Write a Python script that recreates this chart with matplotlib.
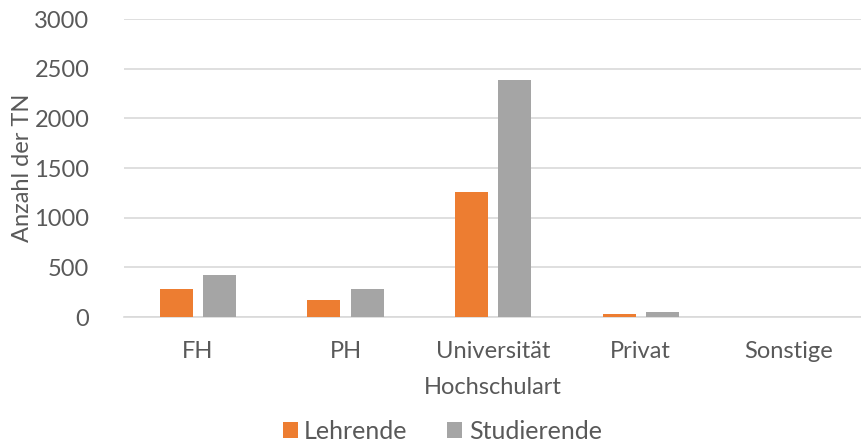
import numpy as np
import matplotlib.pyplot as plt

# Teilnehmende nach Hochschulart
categories = ['FH', 'PH', 'Universität', 'Privat', 'Sonstige']
lehrende = [288, 168, 1260, 34, 0]
studierende = [420, 287, 2389, 50, 0]

text_col = '#595959'
plt.rcParams['font.family'] = ['Lato', 'DejaVu Sans']
fs = 17

fig = plt.figure(figsize=(8.62, 4.43), dpi=100)
ax = fig.add_axes([0.144, 0.284, 0.856, 0.673])

x = np.arange(len(categories))
w = 0.224
off = 0.146
ax.bar(x - off, lehrende, w, color='#ED7D31', label='Lehrende', zorder=3)
ax.bar(x + off, studierende, w, color='#A5A5A5', label='Studierende', zorder=3)

ax.set_xlim(-0.5, len(categories) - 0.5)
ax.set_ylim(0, 3000)
ax.set_yticks(range(0, 3001, 500))
ax.set_xticks(x)
ax.set_xticklabels(categories)
ax.yaxis.grid(True, color='#D9D9D9', linewidth=1.2, zorder=0)
ax.tick_params(axis='both', length=0, labelsize=fs, colors=text_col)
ax.tick_params(axis='x', pad=17)
ax.tick_params(axis='y', pad=25)
for s in ['top', 'right', 'left']:
    ax.spines[s].set_visible(False)
ax.spines['bottom'].set_color('#D9D9D9')
ax.spines['bottom'].set_linewidth(1.2)

ax.set_ylabel('Anzahl der TN', fontsize=fs, color=text_col, labelpad=1)
ax.set_xlabel('Hochschulart', fontsize=fs, color=text_col, labelpad=11)

leg = fig.legend(loc='lower center', bbox_to_anchor=(0.513, -0.05), ncol=2, frameon=False,
                 fontsize=18, handlelength=0.6, handleheight=0.6, handletextpad=0.25,
                 columnspacing=1.6)
for t in leg.get_texts():
    t.set_color(text_col)

fig.savefig('out.png', dpi=100)
